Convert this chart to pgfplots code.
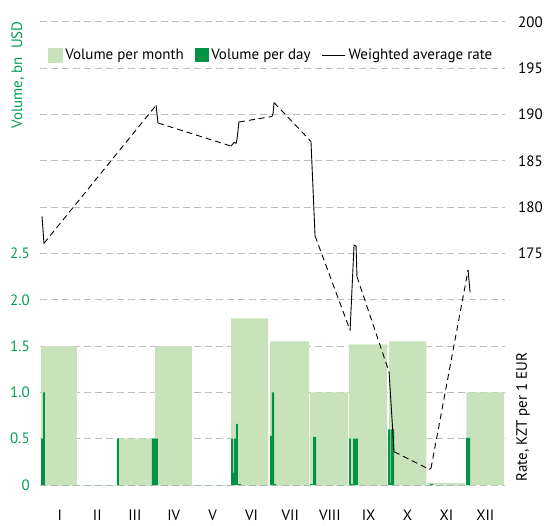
\documentclass[border=0pt]{standalone}
\usepackage{pgfplots}
\pgfplotsset{compat=1.18}
\usepackage{pgfplotstable}
\usepackage{fontspec}
\setmainfont{PT Sans}
\definecolor{lgreen}{RGB}{200,227,187}
\definecolor{dgreen}{RGB}{0,146,69}
\definecolor{tgreen}{RGB}{0,160,80}
\definecolor{gridgray}{RGB}{190,190,190}

% Volume per month (bn USD), step data: start day, height; end day, 0
\pgfplotstableread{
x y
0.8 1.5
29.0 0
62.0 0.5
89.5 0
90.3 1.5
119.3 0
150.0 1.8
179.0 0
180.6 1.55
211.2 0
212.0 1.0
241.8 0
242.6 1.52
272.4 0
274.0 1.55
303.3 0
304.0 0.02
333.8 0
334.6 1.0
364.2 0
}\monthvol

% Volume per day (bn USD)
\pgfplotstableread{
x y
0.8 0.5
2.4 1.0
3.9 0
60.4 0.5
62.0 0
87.9 0.5
92.6 0
150.0 0.5
151.5 0.13
152.3 0.5
153.9 0.66
155.4 0.01
157.8 0
180.6 0.53
182.1 1.0
183.7 0.01
185.3 0
212.0 0.01
214.3 0.52
216.7 0
242.6 0.5
244.1 0.01
245.7 0.5
249.6 0
273.2 0.6
274.8 0.02
275.5 0.6
277.9 0
306.2 0.01
308.5 0
334.4 0.51
337.6 0
}\dayvol

% Weighted average rate, trading days (KZT per 1 EUR)
\pgfplotstableread{
x y
1.6 179.0
3.1 176.1
nan nan
91.1 191.0
92.6 189.1
nan nan
150.0 186.6
152.3 187.0
153.9 186.9
154.6 187.3
156.2 189.2
nan nan
182.1 189.8
182.9 190.1
183.7 191.3
nan nan
212.7 187.1
215.9 176.9
nan nan
243.4 166.7
246.5 175.9
248.1 175.8
248.8 172.5
nan nan
274.0 162.2
277.9 153.6
nan nan
305.4 151.7
306.9 151.8
nan nan
336.0 173.2
337.6 170.8
}\ratesolid

% Connections between trading periods
\pgfplotstableread{
x y
3.1 176.1
91.1 191.0
nan nan
92.6 189.1
150.0 186.6
nan nan
156.2 189.2
182.1 189.8
nan nan
183.7 191.3
212.7 187.1
nan nan
215.9 176.9
243.4 166.7
nan nan
248.8 172.5
274.0 162.2
nan nan
277.9 153.6
305.4 151.7
nan nan
306.9 151.8
336.0 173.2
}\ratedash

\begin{document}
\fontsize{15}{18}\selectfont
\begin{tikzpicture}
\useasboundingbox (-40pt,-40pt) rectangle (505pt,485pt);
\begin{axis}[
  at={(0pt,0pt)}, anchor=south west,
  scale only axis, width=465pt, height=463pt,
  xmin=0, xmax=365, ymin=0, ymax=5,
  axis lines*=left, axis line style={draw=none},
  major tick length=0pt,
  xtick={15.5,45,74.5,105,135.5,166,196.5,227.5,258,288.5,319,349.5},
  xticklabels={I,II,III,IV,V,VI,VII,VIII,IX,X,XI,XII},
  xticklabel style={yshift=-20pt},
  ytick={0,0.5,1,1.5,2,2.5,3,3.5,4,4.5,5},
  yticklabels={0,0.5,1.0,1.5,2.0,2.5,,,,,},
  yticklabel style={text=tgreen, xshift=-5pt},
  /pgf/number format/assume math mode=true,
  ymajorgrids,
  major grid style={gridgray, line width=1pt, dash pattern=on 7pt off 4pt},
  ylabel={Volume, bn~~USD},
  ylabel style={text=tgreen, at={(axis description cs:-0.0473,0.8855)}, anchor=center},
]
\addplot[const plot, fill=lgreen, draw=none] table[x=x,y=y] {\monthvol} \closedcycle;
\addplot[const plot, fill=dgreen, draw=none] table[x=x,y=y] {\dayvol} \closedcycle;
\end{axis}
\begin{axis}[
  at={(0pt,0pt)}, anchor=south west,
  scale only axis, width=465pt, height=463pt,
  xmin=0, xmax=365, ymin=150, ymax=200,
  axis y line*=right, axis x line=none, axis line style={draw=none},
  major tick length=0pt,
  ytick={175,180,185,190,195,200},
  yticklabel style={xshift=8pt},
  /pgf/number format/assume math mode=true,
  unbounded coords=jump,
  ylabel={Rate, KZT per 1 EUR},
  ylabel style={at={(axis description cs:1.0387,0.1469)}, anchor=center},
  legend style={draw=none, fill=none, legend columns=-1,
    at={(axis description cs:0.0172,0.9287)}, anchor=west,
    inner sep=0pt, outer sep=0pt,
    /tikz/every even column/.append style={column sep=8pt},
    nodes={inner sep=3pt}},
]
\addlegendimage{legend image code/.code={\fill[lgreen] (0pt,-7pt) rectangle (14pt,7pt);}}
\addlegendentry{Volume per month}
\addlegendimage{legend image code/.code={\fill[dgreen] (0pt,-6.5pt) rectangle (13pt,6.5pt);}}
\addlegendentry{Volume per day}
\addlegendimage{legend image code/.code={\draw[black, line width=1pt] (0pt,0pt) -- (23pt,0pt);}}
\addlegendentry{Weighted average rate}
\addplot[forget plot, black, line width=0.9pt, dash pattern=on 6pt off 4pt] table[x=x,y=y] {\ratedash};
\addplot[forget plot, black, line width=0.9pt] table[x=x,y=y] {\ratesolid};
\end{axis}
\end{tikzpicture}
\end{document}
